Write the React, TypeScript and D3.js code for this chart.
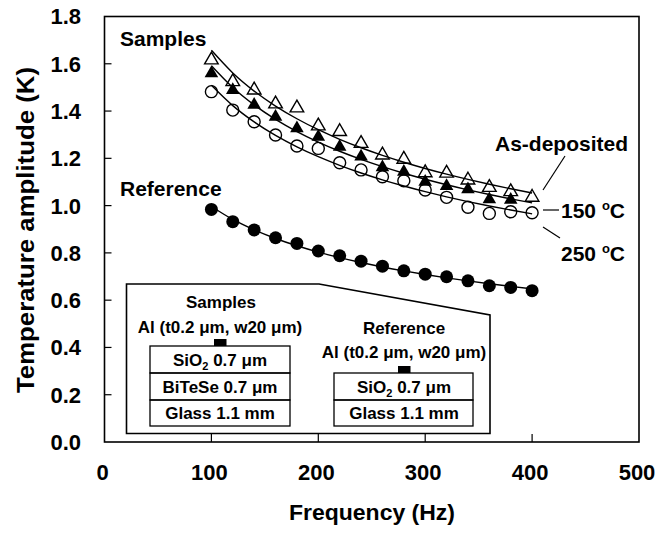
import React from 'react';
import * as d3 from 'd3';

// frequencies (Hz)
const freqs = [100, 120, 140, 160, 180, 200, 220, 240, 260, 280, 300, 320, 340, 360, 380, 400];
// temperature amplitude (K)
const asDeposited = [1.616, 1.524, 1.489, 1.43, 1.413, 1.337, 1.313, 1.263, 1.214, 1.196, 1.139, 1.137, 1.108, 1.077, 1.059, 1.035];
const annealed150 = [1.56, 1.489, 1.426, 1.376, 1.327, 1.291, 1.249, 1.207, 1.162, 1.143, 1.101, 1.083, 1.069, 1.027, 1.024];
const annealed250 = [1.482, 1.404, 1.355, 1.299, 1.252, 1.242, 1.181, 1.151, 1.122, 1.105, 1.066, 1.035, 0.993, 0.967, 0.974, 0.97];
const reference = [0.984, 0.932, 0.897, 0.864, 0.84, 0.808, 0.788, 0.765, 0.744, 0.724, 0.71, 0.699, 0.682, 0.661, 0.654, 0.64];

const xTicks = [0, 100, 200, 300, 400, 500];
const yTicks = [0, 0.2, 0.4, 0.6, 0.8, 1.0, 1.2, 1.4, 1.6, 1.8];

const W = 657, H = 537;
const FONT = "'Liberation Sans', Arial, sans-serif";

// log-log least squares, used for the trend lines
function powerFit(xs: number[], ys: number[]) {
  const lx = xs.slice(0, ys.length).map(Math.log);
  const ly = ys.map(Math.log);
  const mx = d3.mean(lx)!, my = d3.mean(ly)!;
  const b = d3.sum(lx, (v, i) => (v - mx) * (ly[i] - my)) / d3.sum(lx, v => (v - mx) ** 2);
  const a = my - b * mx;
  return (x: number) => Math.exp(a + b * Math.log(x));
}

export default function App() {
  const x = d3.scaleLinear().domain([0, 500]).range([104.5, 639]);
  const y = d3.scaleLinear().domain([0, 1.8]).range([442, 16.5]);

  const line = d3.line<number>()
    .x(d => x(d))
    .curve(d3.curveMonotoneX);

  const fitPath = (vals: number[]) => {
    const f = powerFit(freqs, vals);
    return line.y(d => y(f(d)))(freqs) || '';
  };

  const tri = d3.symbol(d3.symbolTriangle, 80)() || '';

  const series = [
    { vals: annealed250, kind: 'openCircle' },
    { vals: annealed150, kind: 'filledTri' },
    { vals: asDeposited, kind: 'openTri' },
    { vals: reference, kind: 'filledCircle' },
  ];

  const bold = { fontFamily: FONT, fontWeight: 700 as const };

  return (
    <svg width={W} height={H} style={{ position: 'absolute', left: 0, top: 0, background: '#fff' }}>
      <rect width={W} height={H} fill="#fff" />

      {/* trend lines */}
      {series.map((s, i) => (
        <path key={'l' + i} d={fitPath(s.vals)} fill="none" stroke="#000" strokeWidth={1.4} />
      ))}

      {/* markers */}
      {series.map((s, i) => (
        <g key={'m' + i}>
          {s.vals.map((v, j) => {
            const cx = x(freqs[j]), cy = y(v);
            if (s.kind === 'openCircle')
              return <circle key={j} cx={cx} cy={cy} r={6} fill="none" stroke="#000" strokeWidth={1.4} />;
            if (s.kind === 'filledCircle')
              return <circle key={j} cx={cx} cy={cy} r={6.5} fill="#000" />;
            if (s.kind === 'filledTri')
              return <path key={j} d={tri} transform={`translate(${cx},${cy})`} fill="#000" />;
            return <path key={j} d={tri} transform={`translate(${cx},${cy})`} fill="none" stroke="#000" strokeWidth={1.4} />;
          })}
        </g>
      ))}

      {/* frame + inward ticks */}
      <rect x={x(0)} y={y(1.8)} width={x(500) - x(0)} height={y(0) - y(1.8)} fill="none" stroke="#000" strokeWidth={1.6} />
      {yTicks.slice(1, -1).map(t => (
        <line key={'yt' + t} x1={x(0)} x2={x(0) + 7} y1={y(t)} y2={y(t)} stroke="#000" strokeWidth={1.2} />
      ))}
      {xTicks.slice(1, -1).map(t => (
        <line key={'xt' + t} x1={x(t)} x2={x(t)} y1={y(0)} y2={y(0) - 8} stroke="#000" strokeWidth={1.2} />
      ))}

      {/* tick labels */}
      {yTicks.map(t => (
        <text key={'yl' + t} x={81} y={y(t)} dy="0.36em" textAnchor="end" fontSize={22} {...bold}>
          {t.toFixed(1)}
        </text>
      ))}
      {xTicks.map(t => (
        <text key={'xl' + t} x={x(t) - 2} y={472} dy="0.36em" textAnchor="middle" fontSize={22} {...bold}>
          {t}
        </text>
      ))}

      {/* axis titles */}
      <text x={372} y={520} textAnchor="middle" fontSize={22} {...bold} textLength={166} lengthAdjust="spacingAndGlyphs">
        Frequency (Hz)
      </text>
      <text transform="translate(34,230) rotate(-90)" textAnchor="middle" fontSize={23} {...bold} textLength={326} lengthAdjust="spacingAndGlyphs">
        Temperature amplitude (K)
      </text>

      {/* curve labels */}
      <text x={120} y={46} fontSize={21} {...bold}>Samples</text>
      <text x={120} y={196} fontSize={21} {...bold}>Reference</text>
      <text x={628} y={151} textAnchor="end" fontSize={21} {...bold}>As-deposited</text>
      <line x1={543} y1={190} x2={565} y2={156} stroke="#000" strokeWidth={1.2} />
      <line x1={543} y1={210} x2={559} y2={210} stroke="#000" strokeWidth={1.2} />
      <text x={561} y={218} fontSize={21} {...bold}>
        150 <tspan fontSize={13} dy={-8}>o</tspan><tspan dy={8}>C</tspan>
      </text>
      <line x1={543} y1={227} x2={560} y2={238} stroke="#000" strokeWidth={1.2} />
      <text x={561} y={261} fontSize={21} {...bold}>
        250 <tspan fontSize={13} dy={-8}>o</tspan><tspan dy={8}>C</tspan>
      </text>

      {/* inset: layer structures */}
      <path d="M126.5,284 L319,284 L490,315 L490,433.5 L126.5,433.5 Z" fill="#fff" stroke="#000" strokeWidth={1.6} />
      <g {...bold} fontSize={17} textAnchor="middle">
        <text x={221} y={307.5}>Samples</text>
        <text x={220} y={333}>Al (t0.2 μm, w20 μm)</text>
        <rect x={214} y={339} width={12.5} height={7} fill="#000" />
        <rect x={150} y={346} width={140} height={27} fill="none" stroke="#000" strokeWidth={1.3} />
        <rect x={150} y={373} width={140} height={27} fill="none" stroke="#000" strokeWidth={1.3} />
        <rect x={150} y={400} width={140} height={26} fill="none" stroke="#000" strokeWidth={1.3} />
        <text x={220} y={365.5}>SiO<tspan fontSize={11} dy={4}>2</tspan><tspan dy={-4}> 0.7 μm</tspan></text>
        <text x={220} y={392.5}>BiTeSe 0.7 μm</text>
        <text x={220} y={419}>Glass 1.1 mm</text>

        <text x={404} y={334}>Reference</text>
        <text x={404} y={358}>Al (t0.2 μm, w20 μm)</text>
        <rect x={398} y={366} width={12.5} height={7} fill="#000" />
        <rect x={334} y={373} width={139} height={27} fill="none" stroke="#000" strokeWidth={1.3} />
        <rect x={334} y={400} width={139} height={26} fill="none" stroke="#000" strokeWidth={1.3} />
        <text x={404} y={392.5}>SiO<tspan fontSize={11} dy={4}>2</tspan><tspan dy={-4}> 0.7 μm</tspan></text>
        <text x={404} y={419}>Glass 1.1 mm</text>
      </g>
    </svg>
  );
}
